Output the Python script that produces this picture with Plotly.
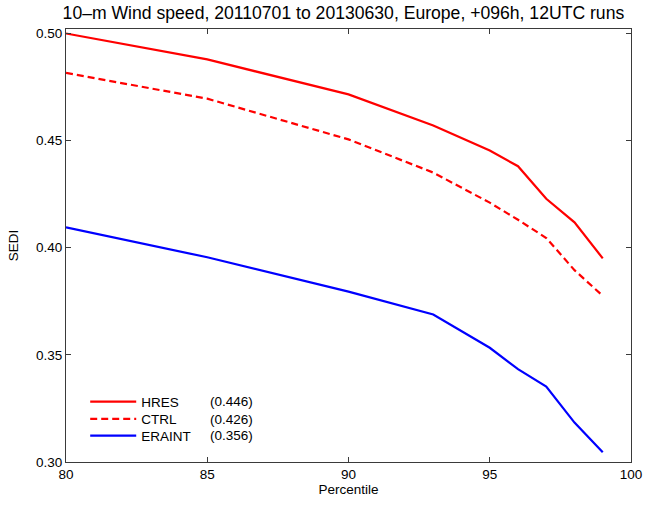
import plotly.graph_objects as go

percentile = [80, 85, 90, 93, 95, 96, 97, 98, 99]
hres = [0.4999, 0.4878, 0.4715, 0.4570, 0.4453, 0.4380, 0.4228, 0.4118, 0.3950]
ctrl = [0.4815, 0.4695, 0.4505, 0.4350, 0.4210, 0.4130, 0.4045, 0.3895, 0.3775]
eraint = [0.4095, 0.3955, 0.3795, 0.3688, 0.3533, 0.3433, 0.3352, 0.3184, 0.3045]
names = ["HRES", "CTRL", "ERAINT"]
scores = ["(0.446)", "(0.426)", "(0.356)"]
yticks = [0.30, 0.35, 0.40, 0.45, 0.50]
xticks = [80, 85, 90, 95, 100]

FONT = "Liberation Sans, Arial, sans-serif"
AX = "#3a3a3a"
FS = 13.5

fig = go.Figure()
styles = [dict(color="#ff0000", width=2.2),
          dict(color="#ff0000", width=2.2, dash="7px,4px"),
          dict(color="#0000ff", width=2.2)]
legend_ids = ["legend", "legend2", "legend3"]
row_y = [0.139, 0.099, 0.0606]
for name, ys, st, lg in zip(names, [hres, ctrl, eraint], styles, legend_ids):
    fig.add_trace(go.Scatter(x=percentile, y=ys, mode="lines", name=name, line=st,
                             legend=lg))

for s, ry in zip(scores, row_y):
    fig.add_annotation(x=0.252, y=ry, xref="paper", yref="paper",
                       text=s, showarrow=False, xanchor="left", yanchor="middle",
                       font=dict(family=FONT, size=FS, color="black"))

legend_common = dict(xanchor="left", yanchor="middle", bgcolor="rgba(0,0,0,0)",
                     borderwidth=0, itemwidth=46,
                     font=dict(family=FONT, size=FS, color="black"))

fig.update_layout(
    width=654, height=507,
    margin=dict(l=66, r=14, t=29, b=44),
    paper_bgcolor="white", plot_bgcolor="white",
    font=dict(family=FONT, size=FS, color="black"),
    title=dict(text="10–m Wind speed, 20110701 to 20130630, Europe, +096h, 12UTC runs",
               x=0.491, xref="paper", xanchor="center", y=0.974, yanchor="middle",
               font=dict(family=FONT, size=17.6, color="black")),
    showlegend=True,
    legend=dict(x=0.034, y=row_y[0], **legend_common),
    legend2=dict(x=0.034, y=row_y[1], **legend_common),
    legend3=dict(x=0.034, y=row_y[2], **legend_common),
    xaxis=dict(range=[80, 100], tickvals=xticks, ticktext=[str(v) for v in xticks],
               ticks="inside", ticklen=5, tickcolor=AX, showline=True, linecolor=AX,
               linewidth=1, mirror="ticks", showgrid=False, zeroline=False,
               title=dict(text="Percentile", standoff=3, font=dict(size=FS)),
               tickfont=dict(size=FS)),
    yaxis=dict(range=[0.30, 0.502], tickvals=yticks, ticktext=[f"{v:.2f}" for v in yticks],
               ticks="inside", ticklen=5, tickcolor=AX, showline=True, linecolor=AX,
               linewidth=1, mirror="ticks", showgrid=False, zeroline=False,
               title=dict(text="SEDI", standoff=14, font=dict(size=FS)),
               tickfont=dict(size=FS)),
)

fig.write_html("out.html")
